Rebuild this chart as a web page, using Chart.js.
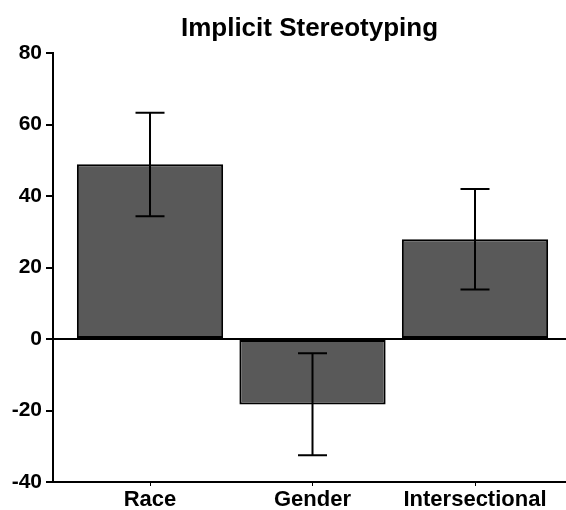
<!DOCTYPE html>
<html>
<head>
<meta charset="utf-8">
<script src="https://cdn.jsdelivr.net/npm/chart.js@4"></script>
<style>
  html, body { margin: 0; padding: 0; background: #fff; }
  #wrap { width: 566px; height: 510px; }
</style>
</head>
<body>
<div id="wrap"><canvas id="grafico"></canvas></div>
<script>
// Dados do gráfico
const categorias = ['Race', 'Gender', 'Intersectional'];
const medias = [48.9, -18.3, 27.9];
const erroSuperior = [63.3, -4.0, 42.0];
const erroInferior = [34.4, -32.5, 13.9];
const ticksY = [-40, -20, 0, 20, 40, 60, 80];

const fonte = 'Liberation Sans, Arial, sans-serif';

// Plugin simples para desenhar as barras de erro usando as escalas do gráfico
const barrasDeErro = {
  id: 'barrasDeErro',
  afterDatasetsDraw(chart) {
    const { ctx, scales: { x, y } } = chart;
    ctx.save();
    ctx.strokeStyle = '#000';
    ctx.lineWidth = 2;
    categorias.forEach((c, i) => {
      const px = x.getPixelForValue(i);
      const top = y.getPixelForValue(erroSuperior[i]);
      const bot = y.getPixelForValue(erroInferior[i]);
      const cap = 14.5;
      ctx.beginPath();
      ctx.moveTo(px, top); ctx.lineTo(px, bot);
      ctx.moveTo(px - cap, top); ctx.lineTo(px + cap, top);
      ctx.moveTo(px - cap, bot); ctx.lineTo(px + cap, bot);
      ctx.stroke();
    });
    ctx.restore();
  }
};

const ctx = document.getElementById('grafico').getContext('2d');

const grafico = new Chart(ctx, {
  type: 'bar',
  data: {
    datasets: [{
      data: medias.map((v, i) => ({ x: i, y: v })),
      backgroundColor: '#595959',
      borderColor: '#000',
      borderWidth: 2,
      borderSkipped: false,
      barPercentage: 0.9,
      categoryPercentage: 1.0
    }]
  },
  options: {
    responsive: true,
    maintainAspectRatio: false,
    animation: false,
    layout: { padding: 0 },
    plugins: {
      legend: { display: false },
      tooltip: { enabled: false },
      title: {
        display: true,
        fullSize: false, // centraliza sobre a área do gráfico
        text: 'Implicit Stereotyping',
        color: '#000',
        font: { family: fonte, size: 26, weight: 'bold', lineHeight: 1.2 },
        padding: { top: 13, bottom: 9 }
      }
    },
    scales: {
      x: {
        type: 'linear',
        min: -0.597,
        max: 2.56,
        offset: false,
        afterBuildTicks: s => { s.ticks = categorias.map((c, i) => ({ value: i })); },
        afterFit: s => { s.height = 28; },
        ticks: {
          callback: v => categorias[v],
          color: '#000',
          padding: 1,
          maxRotation: 0,
          font: { family: fonte, size: 22, weight: 'bold' }
        },
        grid: { drawOnChartArea: false, drawTicks: true, tickLength: 4, tickColor: '#000', offset: false },
        border: { color: '#000', width: 2 }
      },
      y: {
        min: -40,
        max: 80,
        afterBuildTicks: s => { s.ticks = ticksY.map(v => ({ value: v })); },
        afterFit: s => { s.width = 53; },
        ticks: {
          color: '#000',
          padding: 4,
          font: { family: fonte, size: 21, weight: 'bold' }
        },
        grid: {
          color: c => (c.tick && c.tick.value === 0) ? '#000' : 'rgba(0,0,0,0)',
          lineWidth: 2,
          tickColor: '#000',
          tickLength: 7
        },
        border: { color: '#000', width: 2 }
      }
    }
  },
  plugins: [barrasDeErro]
});
</script>
</body>
</html>
